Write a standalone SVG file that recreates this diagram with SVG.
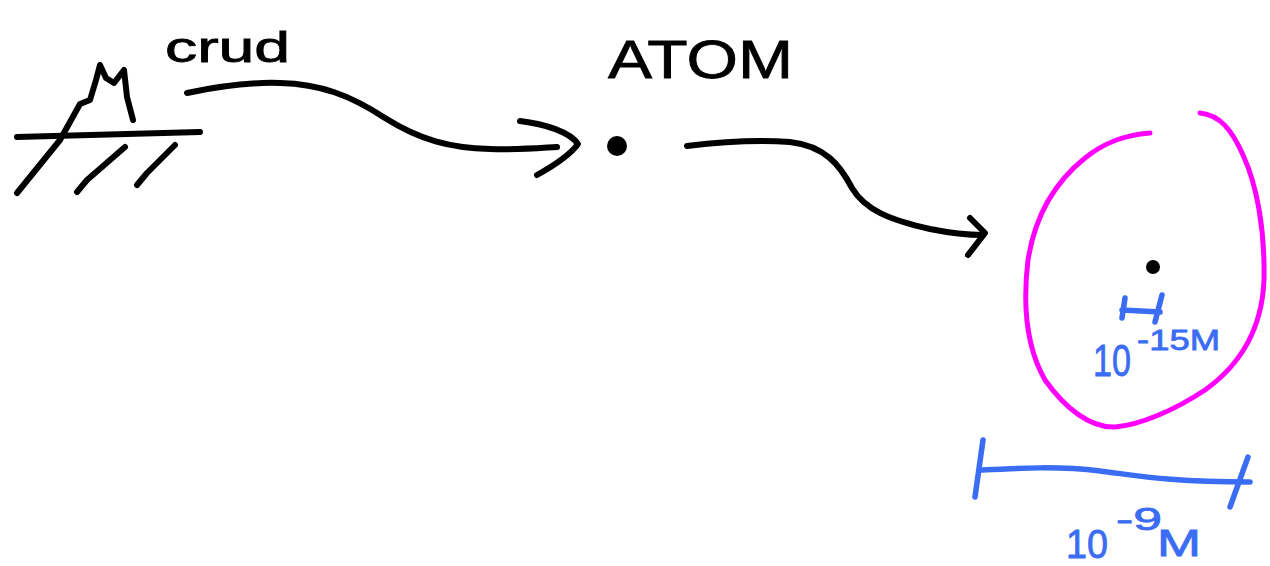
<svg xmlns="http://www.w3.org/2000/svg" width="1270" height="566" viewBox="0 0 1270 566">
<style>
.ink{fill:none;stroke:#000;stroke-width:6;stroke-linecap:round;stroke-linejoin:round}
.blue{fill:none;stroke:#3a6cf4;stroke-width:5.5;stroke-linecap:round;stroke-linejoin:round}
.pink{fill:none;stroke:#ff00ff;stroke-width:5;stroke-linecap:round;stroke-linejoin:round}
.hk{font-family:"Liberation Sans",Arial,sans-serif;fill:#000;stroke:#000;stroke-width:0.8}
.hb{font-family:"Liberation Sans",Arial,sans-serif;fill:#3a6cf4;stroke:#3a6cf4;stroke-width:0.8}
</style>
<rect width="1270" height="566" fill="#fff"/>
<g id="ground">
<path class="ink" d="M17,137 L200,132"/>
<path class="ink" d="M17,193 L60,140 L70,122 L80,104 L90,100 L96,80 L100,65 L106,78 L114,83 L124,70 L127,97 L133,120"/>
<path class="ink" d="M77,192 L87,180 L125,147"/>
<path class="ink" d="M137,185 L147,173 L175,145"/>
<text class="hk" x="165" y="62" font-size="42" textLength="125" lengthAdjust="spacingAndGlyphs">crud</text>
</g>
<g id="atom">
<circle cx="617" cy="146" r="10" fill="#000"/>
<text class="hk" x="608" y="78" font-size="54" textLength="185" lengthAdjust="spacingAndGlyphs">ATOM</text>
</g>
<g id="atom-zoom">
<path class="pink" d="M1150,133 C1125,135 1105,142 1085,158 C1055,182 1035,215 1028,260 C1022,310 1028,350 1045,380 C1065,408 1090,428 1115,427 C1140,425 1175,410 1205,390 C1240,365 1262,330 1264,280 C1265,230 1257,185 1243,155 C1232,130 1220,115 1200,113"/>
<circle cx="1153" cy="267" r="7" fill="#000"/>
<path class="blue" d="M1125,298 L1122,318 M1122,310 L1160,312 M1162,295 L1155,322"/>
<text class="hb" x="1093" y="376" font-size="44" textLength="38" lengthAdjust="spacingAndGlyphs">10</text>
<text class="hb" x="1137" y="350" font-size="30" textLength="83" lengthAdjust="spacingAndGlyphs">-15M</text>
</g>
<g id="scale">
<path class="blue" d="M983,440 L975,497"/>
<path class="blue" d="M982,470 C1020,468 1060,466 1100,471 C1140,476 1170,482 1250,482"/>
<path class="blue" d="M1248,457 L1230,507"/>
<text class="hb" x="1066" y="558" font-size="40" textLength="42" lengthAdjust="spacingAndGlyphs">10</text>
<text class="hb" x="1116" y="530" font-size="32" textLength="46" lengthAdjust="spacingAndGlyphs">-9</text>
<text class="hb" x="1157" y="556" font-size="36" textLength="44" lengthAdjust="spacingAndGlyphs">M</text>
</g>
<g id="connectors">
<path class="ink" d="M187,93 C220,86 250,82 280,83 C320,84 350,95 385,118 C420,140 450,148 490,149 C520,150 540,148 557,147"/>
<path class="ink" d="M520,121 C545,124 570,132 578,144 C570,155 555,165 537,175"/>
<path class="ink" d="M687,146 C720,142 760,140 790,142 C825,146 840,165 852,188 C865,210 890,220 930,229 C950,233 965,235 983,235"/>
<path class="ink" d="M970,218 L985,233 L968,255"/>
</g>
</svg>
